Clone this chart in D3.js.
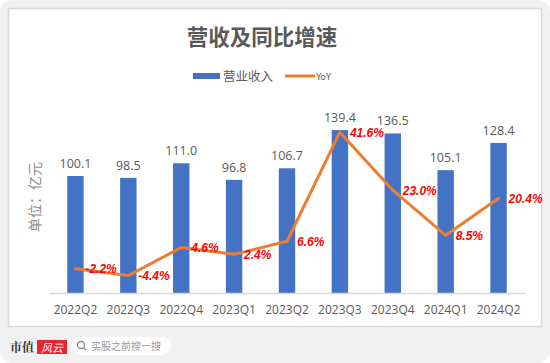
<!DOCTYPE html>
<html>
<head>
<meta charset="utf-8">
<script src="https://cdn.jsdelivr.net/npm/d3@7"></script>
<style>
  html, body { margin: 0; padding: 0; background: #fff; }
  svg { display: block; }
</style>
</head>
<body>
<div id="chart"></div>
<script>
var quarters = ["2022Q2", "2022Q3", "2022Q4", "2023Q1", "2023Q2", "2023Q3", "2023Q4", "2024Q1", "2024Q2"];
var revenue = [100.1, 98.5, 111.0, 96.8, 106.7, 139.4, 136.5, 105.1, 128.4];
var yoy = [-2.2, -4.4, 4.6, 2.4, 6.6, 41.6, 23.0, 8.5, 20.4];

var width = 550, height = 363;
var font = "'Noto Sans CJK SC', 'Microsoft YaHei', sans-serif";
var numFont = "'Open Sans', 'Noto Sans', sans-serif";

var svg = d3.select("#chart").append("svg")
    .attr("width", width)
    .attr("height", height);

// outer frame
svg.append("rect")
    .attr("x", 0).attr("y", 0)
    .attr("width", width).attr("height", height)
    .attr("rx", 12)
    .attr("fill", "#f1f1f1");

svg.append("rect")
    .attr("x", 8.5).attr("y", 8.5)
    .attr("width", 533).attr("height", 318)
    .attr("fill", "#fff")
    .attr("stroke", "#d9d9d9")
    .attr("stroke-width", 1.5);

// title
svg.append("text")
    .attr("x", 262).attr("y", 45)
    .attr("text-anchor", "middle")
    .attr("font-family", font)
    .attr("font-size", 21.5)
    .attr("font-weight", "bold")
    .attr("fill", "#595959")
    .text("营收及同比增速");

// legend
var legend = svg.append("g").attr("font-family", font).attr("font-size", 12.5).attr("fill", "#595959");
legend.append("rect").attr("x", 193).attr("y", 73).attr("width", 27).attr("height", 6).attr("fill", "#4472c4");
legend.append("text").attr("x", 223).attr("y", 81).text("营业收入");
legend.append("line").attr("x1", 285).attr("x2", 315).attr("y1", 76).attr("y2", 76)
    .attr("stroke", "#ed7d31").attr("stroke-width", 3);
legend.append("text").attr("x", 316).attr("y", 80).attr("font-size", 9).attr("font-family", "'DejaVu Sans', sans-serif").text("YoY");

// scales
var x = d3.scaleBand().domain(quarters).range([49, 525]).paddingInner(0.69).paddingOuter(0.345);
var y = d3.scaleLinear().domain([0, 160]).range([293, 106]);
var y2 = d3.scaleLinear().domain([-10, 50]).range([293, 106]);

// bars
svg.append("g").selectAll("rect")
    .data(revenue)
    .enter().append("rect")
      .attr("x", function(d, i) { return x(quarters[i]); })
      .attr("y", function(d) { return y(d); })
      .attr("width", x.bandwidth())
      .attr("height", function(d) { return y(0) - y(d); })
      .attr("fill", "#4472c4");

svg.append("g").selectAll("text")
    .data(revenue)
    .enter().append("text")
      .attr("x", function(d, i) { return x(quarters[i]) + x.bandwidth() / 2; })
      .attr("y", function(d) { return y(d) - 8; })
      .attr("text-anchor", "middle")
      .attr("font-family", numFont)
      .attr("font-size", 12.5)
      .attr("fill", "#595959")
      .text(function(d) { return d.toFixed(1); });

// x axis
var xAxis = svg.append("g")
    .attr("transform", "translate(0," + y(0) + ")")
    .call(d3.axisBottom(x).tickSize(0).tickPadding(12));
xAxis.select(".domain").attr("stroke", "#d9d9d9").attr("stroke-width", 1.5);
xAxis.selectAll("text")
    .attr("font-family", numFont)
    .attr("font-size", 12)
    .attr("fill", "#595959");

// y axis title
svg.append("text")
    .attr("transform", "translate(40,197) rotate(-90)")
    .attr("text-anchor", "middle")
    .attr("font-family", font)
    .attr("font-size", 14)
    .attr("fill", "#8c8c8c")
    .text("单位：亿元");

// yoy line
var cx = function(i) { return x(quarters[i]) + x.bandwidth() / 2; };
var line = d3.line()
    .x(function(d, i) { return cx(i); })
    .y(function(d) { return y2(d); });

svg.append("path")
    .datum(yoy)
    .attr("d", line)
    .attr("fill", "none")
    .attr("stroke", "#ed7d31")
    .attr("stroke-width", 3)
    .attr("stroke-linejoin", "round")
    .attr("stroke-linecap", "round");

svg.append("g").selectAll("text")
    .data(yoy)
    .enter().append("text")
      .attr("x", function(d, i) { return cx(i) + 10; })
      .attr("y", function(d) { return y2(d) + 4.5; })
      .attr("font-family", "'Liberation Sans', Arial, sans-serif")
      .attr("font-size", 12)
      .attr("font-weight", "bold")
      .attr("font-style", "italic")
      .attr("fill", "#ff0000")
      .text(function(d) { return d.toFixed(1) + "%"; });

// footer
svg.append("text")
    .attr("x", 10).attr("y", 352)
    .attr("font-family", "'Noto Serif CJK SC', " + font)
    .attr("font-size", 12)
    .attr("font-weight", "bold")
    .attr("fill", "#333")
    .text("市值");
svg.append("rect")
    .attr("x", 37).attr("y", 340)
    .attr("width", 30).attr("height", 14)
    .attr("fill", "#e8242c");
svg.append("text")
    .attr("x", 52).attr("y", 351.5)
    .attr("text-anchor", "middle")
    .attr("font-family", font)
    .attr("font-size", 11)
    .attr("font-style", "italic")
    .attr("fill", "#fff")
    .text("风云");

svg.append("rect")
    .attr("x", 72).attr("y", 337)
    .attr("width", 99).attr("height", 18)
    .attr("rx", 9)
    .attr("fill", "#fff");
svg.append("circle")
    .attr("cx", 81).attr("cy", 345).attr("r", 3.5)
    .attr("fill", "none").attr("stroke", "#888").attr("stroke-width", 1.3);
svg.append("line")
    .attr("x1", 83.5).attr("y1", 347.5).attr("x2", 86).attr("y2", 350)
    .attr("stroke", "#888").attr("stroke-width", 1.3);
svg.append("text")
    .attr("x", 91).attr("y", 350)
    .attr("font-family", font)
    .attr("font-size", 10)
    .attr("fill", "#999")
    .text("买股之前搜一搜");
</script>
</body>
</html>
